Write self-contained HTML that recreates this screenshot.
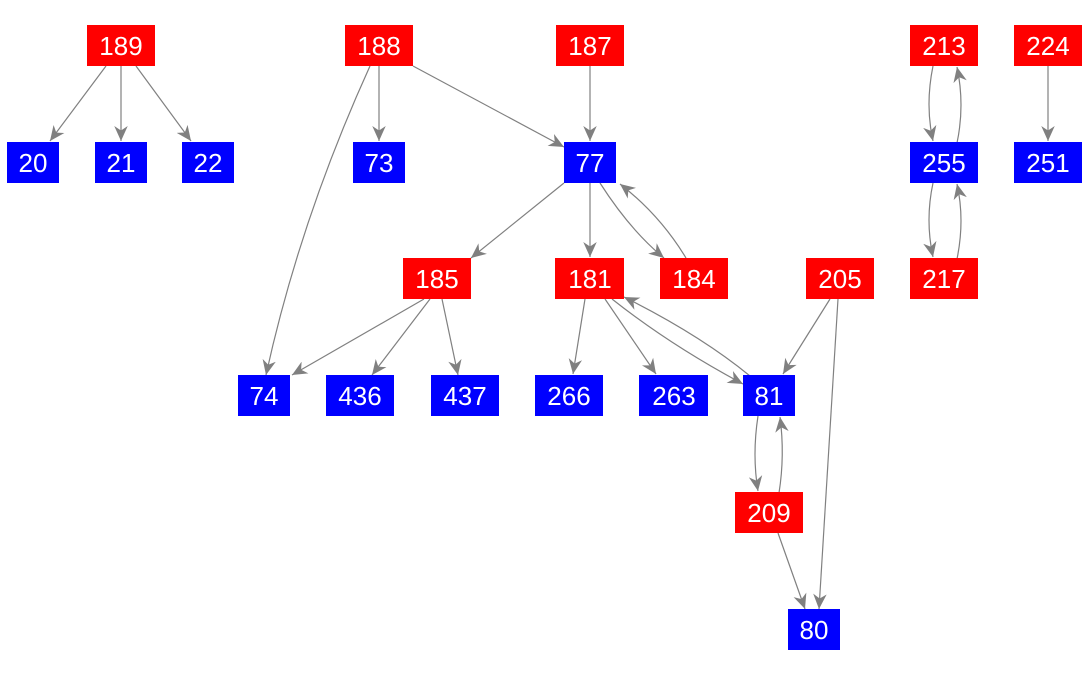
<!DOCTYPE html>
<html><head><style>body{margin:0;background:#fff}svg{display:block}</style></head><body>
<svg width="1090" height="675" xmlns="http://www.w3.org/2000/svg" font-family="Liberation Sans, sans-serif" font-size="26">
<defs><marker id="a" viewBox="0 0 10 10" refX="10" refY="5" markerWidth="15" markerHeight="15" markerUnits="userSpaceOnUse" orient="auto"><path d="M0,0.5L10,5L0,9.5L3,5z" fill="#808080"/></marker></defs>
<g stroke="#808080" stroke-width="1.2" fill="none" marker-end="url(#a)">
<path d="M106,66L50,141"/><path d="M121,66L121,141"/><path d="M136,66L191,141"/>
<path d="M379,66L379,141"/><path d="M413,66L564,147"/><path d="M370,66Q300,220 266,375"/>
<path d="M590,66L590,141"/><path d="M1048,66L1048,141"/>
<path d="M933,66Q925,105 933,141"/><path d="M957,143Q965,105 957,67"/>
<path d="M933,183Q925,220 933,257"/><path d="M957,259Q965,220 957,184"/>
<path d="M564,183L471,258"/><path d="M590,183L590,257"/><path d="M600,183Q630,230 664,258"/><path d="M686,258Q660,215 620,184"/>
<path d="M424,299L292,375"/><path d="M430,299L372,375"/><path d="M442,299L458,375"/>
<path d="M585,299L573,374"/><path d="M605,299L656,374"/><path d="M612,299Q670,345 743,384"/><path d="M750,376Q700,335 624,297"/>
<path d="M830,299L783,374"/><path d="M838,299L819,609"/>
<path d="M758,416Q752,455 758,491"/><path d="M779,493Q785,455 780,417"/>
<path d="M778,533L805,609"/>
</g>
<g fill="#f00"><rect x="87" y="25" width="68" height="41"/><rect x="345" y="25" width="68" height="41"/><rect x="556" y="25" width="68" height="41"/><rect x="910" y="25" width="68" height="41"/><rect x="1014" y="25" width="68" height="41"/>
<rect x="403" y="258" width="68" height="41"/><rect x="555" y="258" width="69" height="41"/><rect x="660" y="258" width="68" height="41"/><rect x="806" y="258" width="68" height="41"/><rect x="910" y="258" width="68" height="41"/><rect x="735" y="492" width="68" height="41"/></g>
<g fill="#00f"><rect x="7" y="142" width="52" height="41"/><rect x="95" y="142" width="52" height="41"/><rect x="182" y="142" width="52" height="41"/><rect x="353" y="142" width="52" height="41"/><rect x="564" y="142" width="52" height="41"/><rect x="910" y="142" width="68" height="41"/><rect x="1014" y="142" width="68" height="41"/>
<rect x="238" y="375" width="52" height="41"/><rect x="326" y="375" width="68" height="41"/><rect x="431" y="375" width="68" height="41"/><rect x="535" y="375" width="68" height="41"/><rect x="639" y="375" width="69" height="41"/><rect x="743" y="375" width="52" height="41"/><rect x="788" y="609" width="52" height="41"/></g>
<g fill="#fff" text-anchor="middle">
<text x="121" y="55">189</text><text x="379" y="55">188</text><text x="590" y="55">187</text><text x="944" y="55">213</text><text x="1048" y="55">224</text>
<text x="33" y="172">20</text><text x="121" y="172">21</text><text x="208" y="172">22</text><text x="379" y="172">73</text><text x="590" y="172">77</text><text x="944" y="172">255</text><text x="1048" y="172">251</text>
<text x="437" y="288">185</text><text x="590" y="288">181</text><text x="694" y="288">184</text><text x="840" y="288">205</text><text x="944" y="288">217</text>
<text x="264" y="405">74</text><text x="360" y="405">436</text><text x="465" y="405">437</text><text x="569" y="405">266</text><text x="674" y="405">263</text><text x="769" y="405">81</text>
<text x="769" y="522">209</text><text x="814" y="639">80</text>
</g>
</svg>
</body></html>
